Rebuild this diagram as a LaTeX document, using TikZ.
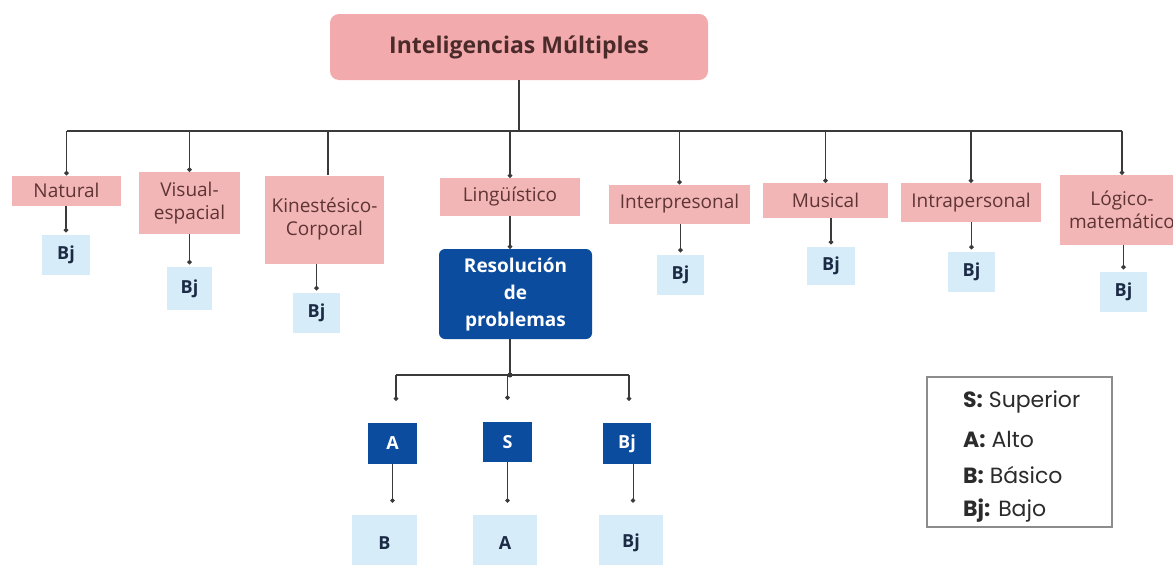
\documentclass[tikz,border=0pt]{standalone}
\usepackage{fontspec}
\setmainfont{Open Sans}
\newfontfamily\legendfont{Poppins}
\usetikzlibrary{arrows.meta}
\definecolor{titlepink}{HTML}{F2AAAD}
\definecolor{nodepink}{HTML}{F3B6B6}
\definecolor{pinktext}{HTML}{5E3434}
\definecolor{paleblue}{HTML}{D6EDF9}
\definecolor{navytext}{HTML}{1B2B45}
\definecolor{deepblue}{HTML}{0B4C9F}
\definecolor{wiregray}{HTML}{3A3A3A}
\definecolor{framegray}{HTML}{8C8C8C}
\definecolor{legendtext}{HTML}{2B2B2B}
\begin{document}
\begin{tikzpicture}[x=1pt,y=-1pt,
  every node/.style={inner sep=0pt, align=center},
  pinkbox/.style={fill=nodepink, text=pinktext, font=\fontsize{19}{23}\selectfont},
  levelbox/.style={fill=paleblue, text=navytext, font=\bfseries\fontsize{18}{21}\selectfont},
  bluebox/.style={fill=deepblue, text=white, font=\bfseries\fontsize{18}{21}\selectfont},
  wire/.style={draw=wiregray, line width=1.3pt},
  link/.style={wire, -{Circle[length=4.5pt]}},
  legendline/.style={anchor=west, text=legendtext, font=\legendfont\fontsize{22}{26}\selectfont}]
\useasboundingbox (0,0) rectangle (1173,565);
\fill[white] (0,0) rectangle (1173,565);

% root
\node[fill=titlepink, rounded corners=9pt, text=pinktext!80!black,
      font=\bfseries\fontsize{23}{27}\selectfont,
      minimum width=378, minimum height=66] (title) at (519,47) {Inteligencias Múltiples};

% the eight intelligences
\node[pinkbox, minimum width=109, minimum height=30] (nat) at (66.5,190.5) {Natural};
\node[pinkbox, minimum width=101, minimum height=62] (vis) at (189.5,203) {Visual-\\espacial};
\node[pinkbox, minimum width=119, minimum height=88] (kin) at (324.5,219.5) {Kinestésico-\\Corporal};
\node[pinkbox, minimum width=140, minimum height=38] (lin) at (510,197) {Lingüístico};
\node[pinkbox, minimum width=141, minimum height=39] (inter) at (679.5,204) {Interpresonal};
\node[pinkbox, minimum width=125, minimum height=35] (mus) at (825.5,200.5) {Musical};
\node[pinkbox, minimum width=140, minimum height=39] (intra) at (971,202.5) {Intrapersonal};
\node[pinkbox, minimum width=124, minimum height=70] (log) at (1122,210) {Lógico-\\matemático};

% levels
\node[levelbox, minimum width=48, minimum height=40] (natb) at (66,255) {Bj};
\node[levelbox, minimum width=45, minimum height=43] (visb) at (189.5,288.5) {Bj};
\node[levelbox, minimum width=47, minimum height=40] (kinb) at (316.5,313) {Bj};
\node[levelbox, minimum width=47, minimum height=40] (interb) at (680.5,275) {Bj};
\node[levelbox, minimum width=48, minimum height=38] (musb) at (831,266) {Bj};
\node[levelbox, minimum width=47, minimum height=40] (intrab) at (971.5,272) {Bj};
\node[levelbox, minimum width=47, minimum height=40] (logb) at (1123.5,292) {Bj};

% problem solving branch
\node[bluebox, rounded corners=6pt, minimum width=153, minimum height=90,
      font=\bfseries\fontsize{19}{27}\selectfont] (res) at (515.5,294) {Resolución\\de\\problemas};
\node[bluebox, minimum width=49, minimum height=41] (ra) at (392.5,443.5) {A};
\node[bluebox, minimum width=49, minimum height=40] (rs) at (507.5,442) {S};
\node[bluebox, minimum width=48, minimum height=41] (rbj) at (627,443.5) {Bj};
\node[levelbox, minimum width=65, minimum height=56] (lb) at (384.5,543) {B};
\node[levelbox, minimum width=64, minimum height=56] (la) at (505,543) {A};
\node[levelbox, minimum width=64, minimum height=56] (lbj) at (631,543) {Bj};

% main bus
\coordinate (bus) at (519,131);
\draw[wire] (title.south) -- (title.south |- bus);
\draw[wire] (nat.north |- bus) -- (log.north |- bus);
\foreach \n in {nat,vis,lin,inter,mus,intra,log}
  \draw[link] (\n.north |- bus) -- (\n.north);
\draw[wire] ([xshift=3.5pt]kin.north |- bus) -- ([xshift=3.5pt]kin.north);

% intelligence -> level
\foreach \a/\b in {nat/natb,vis/visb,kin/kinb,inter/interb,mus/musb,intra/intrab,log/logb}
  \draw[link, shorten >=2.5pt] (\b.north |- \a.south) -- (\b.north);
\draw[link] (lin.south) -- (lin.south |- res.north);

% lower bus
\coordinate (rbus) at (510,375);
\draw[wire] (lin.south |- res.south) -- (rbus);
\fill[wiregray] (rbus) circle (2.5pt);
\draw[wire] ([xshift=3.5pt]ra.north |- rbus) -- ([xshift=2pt]rbj.north |- rbus);
\draw[link] ([xshift=3.5pt]ra.north |- rbus) -- ([xshift=3.5pt,yshift=22pt]ra.north);
\draw[link] (rs.north |- rbus) -- ([yshift=22pt]rs.north);
\draw[link] ([xshift=2pt]rbj.north |- rbus) -- ([xshift=2pt,yshift=22pt]rbj.north);

\path ([yshift=12pt]lb.north) coordinate (lowtop);
\draw[link, line width=0.9pt] (ra.south) -- (ra.south |- lowtop);
\draw[link, line width=0.9pt] (rs.south) -- (rs.south |- lowtop);
\draw[link, line width=0.9pt] ([xshift=6pt]rbj.south) -- ([xshift=6pt]rbj.south |- lowtop);

% legend
\node[draw=framegray, line width=1.3pt, minimum width=185, minimum height=150] (legend) at (1019.5,452) {};
\node[legendline] (ls) at (963,402) {\textbf{S:} Superior};
\node[legendline] (la2) at (963,439) {\textbf{A:} Alto};
\node[legendline] (lb2) at (963,475) {\textbf{B:} Básico};
\node[legendline] (lbj2) at (963,511) {\textbf{Bj:} Bajo};
\end{tikzpicture}
\end{document}
